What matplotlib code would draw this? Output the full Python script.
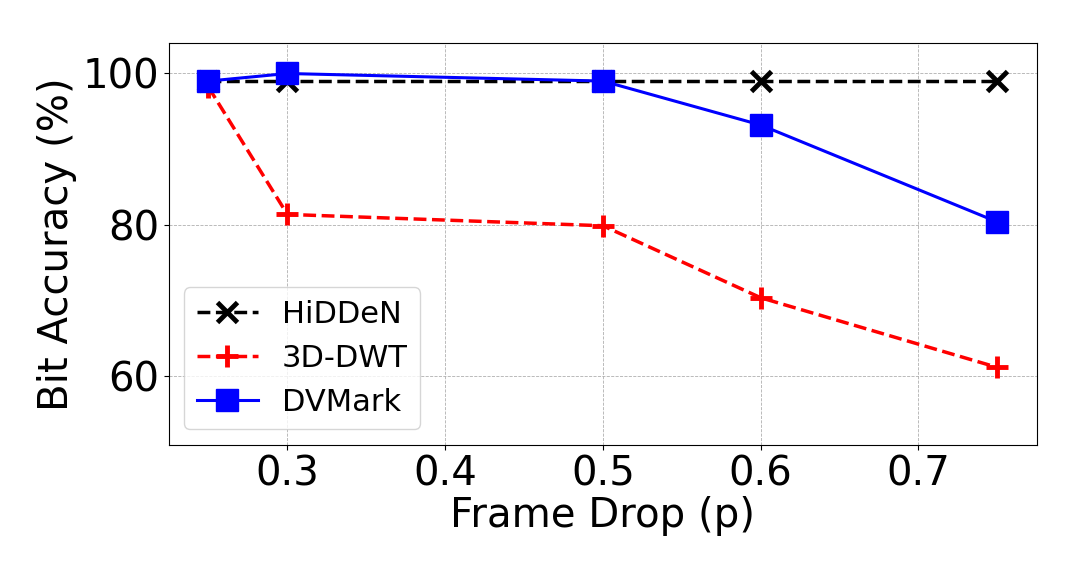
import numpy as np
import matplotlib
matplotlib.use('Agg')
import matplotlib.pyplot as plt

#%% data
frame_drop = [0.25, 0.3, 0.5, 0.6, 0.75]
hidden = [99.0, 99.0, 99.0, 99.0, 99.0]
dwt3d = [98.2, 81.4, 79.9, 70.4, 61.2]
dvmark = [99.0, 100.0, 99.0, 93.2, 80.4]
yticks = [60, 80, 100]

#%% figure
plt.rcParams['font.family'] = 'DejaVu Sans'
fig = plt.figure(figsize=(10.8, 5.76), dpi=100)
ax = fig.add_axes([0.1565, 0.228, 0.8035, 0.697])

ax.plot(frame_drop, hidden, color='k', ls='--', lw=2.5, marker='x',
        ms=15, mew=3.5, label='HiDDeN')
ax.plot(frame_drop, dwt3d, color='r', ls='--', lw=2.5, marker='+',
        ms=16, mew=3.5, label='3D-DWT')
ax.plot(frame_drop, dvmark, color='b', ls='-', lw=2.2, marker='s',
        ms=16, label='DVMark')

ax.set_ylim(51, 104)
ax.set_yticks(yticks)
ax.tick_params(labelsize=29)
ax.set_xlabel('Frame Drop (p)', fontsize=29, labelpad=1)
ax.set_ylabel('Bit Accuracy (%)', fontsize=29)
ax.grid(True, ls='--', lw=0.6, color='#b0b0b0')
ax.legend(loc='lower left', fontsize=22, handlelength=2.0)

fig.savefig('out.png', dpi=100)
